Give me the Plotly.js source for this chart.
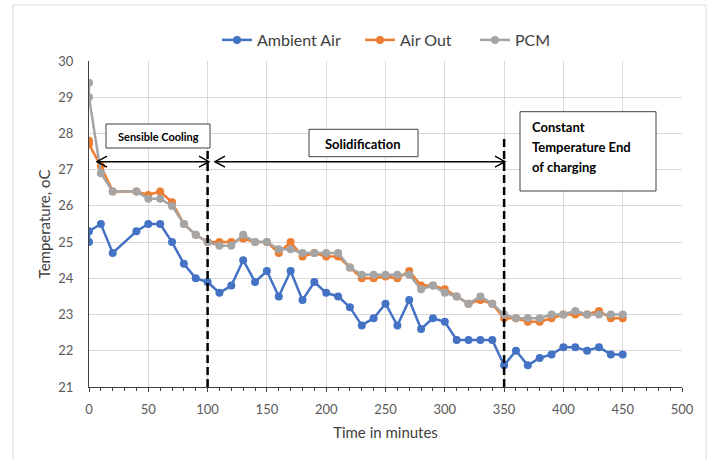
<!DOCTYPE html>
<html>
<head>
<meta charset="utf-8">
<script src="https://cdn.plot.ly/plotly-3.0.1.min.js"></script>
<style>html,body{margin:0;padding:0;background:#fff;}#chart{width:709px;height:460px;}</style>
</head>
<body>
<div id="chart"></div>
<script>
// ---- data ----
const timeMin = [0,0,10,20,40,50,60,70,80,90,100,110,120,130,140,150,160,170,180,190,200,210,220,230,240,250,260,270,280,290,300,310,320,330,340,350,360,370,380,390,400,410,420,430,440,450];
const ambientAir = [25.0,25.3,25.5,24.7,25.3,25.5,25.5,25.0,24.4,24.0,23.9,23.6,23.8,24.5,23.9,24.2,23.5,24.2,23.4,23.9,23.6,23.5,23.2,22.7,22.9,23.3,22.7,23.4,22.6,22.9,22.8,22.3,22.3,22.3,22.3,21.6,22.0,21.6,21.8,21.9,22.1,22.1,22.0,22.1,21.9,21.9];
const airOut = [27.8,27.7,27.1,26.4,26.4,26.3,26.4,26.1,25.5,25.2,25.0,25.0,25.0,25.1,25.0,25.0,24.7,25.0,24.6,24.7,24.6,24.6,24.3,24.0,24.0,24.05,24.0,24.2,23.8,23.8,23.7,23.5,23.3,23.4,23.3,22.9,22.9,22.8,22.8,22.9,23.0,23.0,23.0,23.1,22.9,22.9];
const pcm = [29.4,29.0,26.9,26.4,26.4,26.2,26.2,26.0,25.5,25.2,25.0,24.9,24.9,25.2,25.0,25.0,24.8,24.8,24.7,24.7,24.7,24.7,24.3,24.1,24.1,24.1,24.1,24.1,23.7,23.8,23.6,23.5,23.3,23.5,23.3,23.0,22.9,22.9,22.9,23.0,23.0,23.1,23.0,23.0,23.0,23.0];
const seriesNames = ["Ambient Air","Air Out","PCM"];
const seriesColors = ["#4472C4","#ED7D31","#A5A5A5"];
const xTicks = [0,50,100,150,200,250,300,350,400,450,500];
const yTicks = [21,22,23,24,25,26,27,28,29,30];
const phaseMarks = [100,350];           // dashed vertical lines (minutes)
const phaseLabels = ["Sensible Cooling","Solidification"];
const endLabelLines = ["Constant","Temperature End","of charging"];

// ---- pixel helpers (plot area 89..682 x 61..387) ----
const PL=89, PR=682, PT=61, PB=387;
const X0=0, X1=500, Y0=21, Y1=30;
const tx = px => X0 + (px-PL)*(X1-X0)/(PR-PL);
const ty = py => Y1 - (py-PT)*(Y1-Y0)/(PB-PT);
const pxX = px => (px-PL)/(PR-PL);
const pxY = py => 1 + (PT-py)/(PB-PT);

const font = "Lato, 'Open Sans', 'Liberation Sans', sans-serif";
const ys = [ambientAir, airOut, pcm];
const legendIds = ['legend','legend2','legend3'];
const traces = ys.map((y,i)=>({
  x: timeMin, y: y, name: seriesNames[i], type:'scatter', mode:'lines+markers',
  line:{color:seriesColors[i], width:2.5},
  marker:{color:seriesColors[i], size:8},
  legend: legendIds[i]
}));

const shapes = [];
// chart border
shapes.push({type:'rect', xref:'paper', yref:'paper',
  x0:pxX(13), x1:pxX(706), y0:pxY(470), y1:pxY(5),
  line:{color:'#d9d9d9', width:1}, layer:'below'});
// dashed phase lines
const dashTops = [124,135];
phaseMarks.forEach((m,i)=>{
  shapes.push({type:'line', xref:'x', yref:'y', x0:m, x1:m, y0:Y0, y1:ty(dashTops[i]),
    line:{color:'#000', width:2.5, dash:'8px,4px'}});
});
// boxes
function box(x0,x1,y0,y1){
  shapes.push({type:'rect', xref:'x', yref:'y', x0:tx(x0), x1:tx(x1), y0:ty(y1), y1:ty(y0),
    line:{color:'#404040', width:1}, fillcolor:'#fff', layer:'above'});
}
box(106,210,124,148);
box(309,418,129.3,156.7);
box(520,656,111.7,191);
// double-headed arrows
function arrow(px0,px1,py){
  const y=ty(py), hy=(Y1-Y0)*5.5/(PB-PT), hx=(X1-X0)*10/(PR-PL);
  const a=tx(px0), b=tx(px1);
  const st={color:'#000', width:1.5};
  shapes.push({type:'path', xref:'x', yref:'y', path:`M${a},${y} L${b},${y}`, line:st});
  shapes.push({type:'path', xref:'x', yref:'y', path:`M${b-hx},${y+hy} L${b},${y} L${b-hx},${y-hy}`, line:st});
  shapes.push({type:'path', xref:'x', yref:'y', path:`M${a+hx},${y+hy} L${a},${y} L${a+hx},${y-hy}`, line:st});
}
arrow(97,209,161.7);
arrow(215,505,161.7);

const annotations = [
  {x:tx(158), y:ty(136), xref:'x', yref:'y', text:'<b>'+phaseLabels[0]+'</b>', showarrow:false,
   font:{family:font, size:11, color:'#000'}},
  {x:tx(363), y:ty(144), xref:'x', yref:'y', text:'<b>'+phaseLabels[1]+'</b>', showarrow:false,
   font:{family:font, size:13, color:'#000'}}
];
endLabelLines.forEach((t,i)=>{
  annotations.push({x:tx(530), y:ty(127+20*i), xref:'x', yref:'y', xanchor:'left', text:'<b>'+t+'</b>',
    showarrow:false, font:{family:font, size:13, color:'#000'}});
});

const legendFont = {family:font, size:16, color:'#404040'};
const legendLeft = [217, 360, 475];
const mkLegend = px => ({orientation:'h', x:pxX(px), xanchor:'left', y:pxY(40), yanchor:'middle',
  font:legendFont, bgcolor:'rgba(0,0,0,0)', itemwidth:30});

const layout = {
  width:709, height:460,
  margin:{l:PL, r:709-PR, t:PT, b:460-PB},
  paper_bgcolor:'#fff', plot_bgcolor:'#fff',
  font:{family:font, color:'#595959'},
  showlegend:true,
  legend:mkLegend(legendLeft[0]),
  legend2:mkLegend(legendLeft[1]),
  legend3:mkLegend(legendLeft[2]),
  xaxis:{range:[X0,X1], tickvals:xTicks, ticktext:xTicks.map(String),
    showgrid:true, gridcolor:'#d9d9d9', gridwidth:1, zeroline:false,
    showline:true, linecolor:'#404040', linewidth:1,
    ticks:'outside', ticklen:4, tickcolor:'#404040',
    minor:{dtick:10, ticks:'outside', ticklen:3, tickcolor:'#404040', showgrid:false},
    tickfont:{family:font, size:13, color:'#595959'}, ticklabelstandoff:6,
    title:{text:'Time in minutes', font:{family:font, size:15, color:'#404040'}, standoff:11}},
  yaxis:{range:[Y0,Y1], tickvals:yTicks, ticktext:yTicks.map(String),
    showgrid:true, gridcolor:'#d9d9d9', gridwidth:1, zeroline:false,
    showline:true, linecolor:'#404040', linewidth:1, ticks:'',
    tickfont:{family:font, size:13, color:'#595959'}, ticklabelstandoff:12,
    title:{text:'Temperature, oC', font:{family:font, size:15, color:'#404040'}, standoff:4}},
  shapes:shapes, annotations:annotations
};
Plotly.newPlot('chart', traces, layout, {displayModeBar:false, staticPlot:true});
</script>
</body>
</html>
